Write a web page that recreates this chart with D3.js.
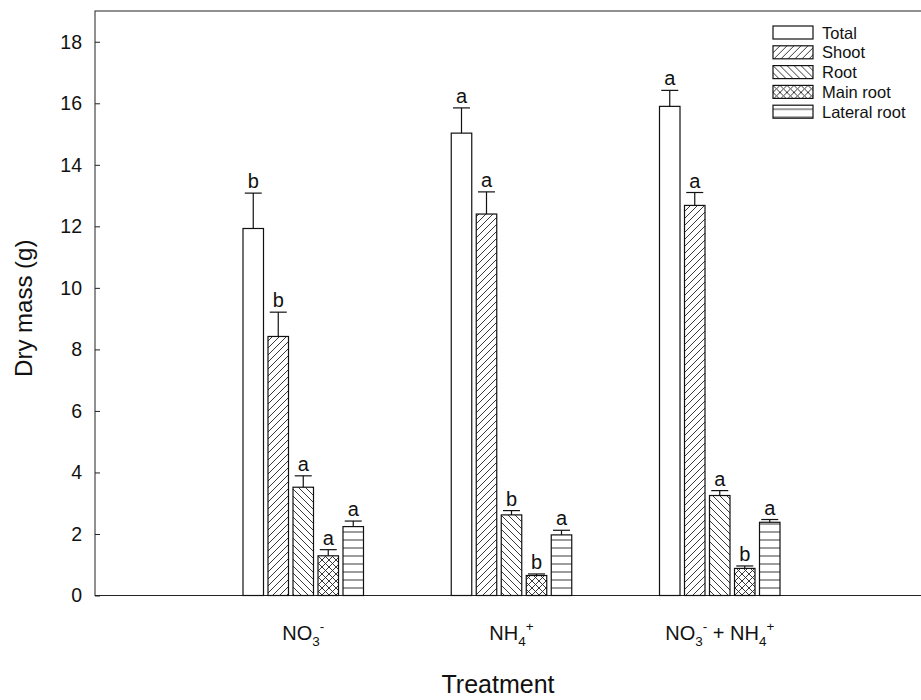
<!DOCTYPE html>
<html>
<head>
<meta charset="utf-8">
<script src="https://cdn.jsdelivr.net/npm/d3@7"></script>
<style>
  body { margin: 0; background: #fff; }
  text { font-family: "Liberation Sans", Arial, sans-serif; fill: #111; }
</style>
</head>
<body>
<svg id="chart" width="921" height="700"></svg>
<script>
// treatments, drawn as base / subscript / superscript pieces
const treatments = ['NO3-', 'NH4+', 'NO3- + NH4+'];
const treatmentLabels = [
    [['NO', ''], ['3', 'sub'], ['-', 'sup']],
    [['NH', ''], ['4', 'sub'], ['+', 'sup']],
    [['NO', ''], ['3', 'sub'], ['-', 'sup'], [' + NH', ''], ['4', 'sub'], ['+', 'sup']]
];
const parts = ['Total', 'Shoot', 'Root', 'Main root', 'Lateral root'];

const totalMass = [11.93, 15.03, 15.90];
const totalErr = [1.15, 0.82, 0.52];
const shootMass = [8.42, 12.40, 12.68];
const shootErr = [0.79, 0.72, 0.42];
const rootMass = [3.52, 2.62, 3.25];
const rootErr = [0.37, 0.14, 0.16];
const mainRootMass = [1.29, 0.65, 0.88];
const mainRootErr = [0.2, 0.05, 0.08];
const lateralRootMass = [2.24, 1.97, 2.38];
const lateralRootErr = [0.18, 0.15, 0.09];

const letters = [
    ['b', 'b', 'a', 'a', 'a'],
    ['a', 'a', 'b', 'b', 'a'],
    ['a', 'a', 'a', 'b', 'a']
];

const yTicks = [0, 2, 4, 6, 8, 10, 12, 14, 16, 18];

const masses = [totalMass, shootMass, rootMass, mainRootMass, lateralRootMass];
const errs = [totalErr, shootErr, rootErr, mainRootErr, lateralRootErr];

const rows = [];
treatments.forEach((t, i) => {
    parts.forEach((p, j) => {
        rows.push({ t, i, part: p, value: masses[j][i], err: errs[j][i], letter: letters[i][j] });
    });
});

const svg = d3.select('#chart');

const M = { left: 95, right: 928, top: 11, bottom: 595.5 };

const x = d3.scaleLinear().domain([0, 4]).range([M.left, M.right]);
const xOff = d3.scaleBand().domain(parts).range([-60.25, 60.25]).paddingInner(0.18);
const y = d3.scaleLinear().domain([0, 19]).range([M.bottom, M.top]);

/** hatch patterns */
const defs = svg.append('defs');
const hatch = (id, size, draw) => {
    const p = defs.append('pattern')
        .attr('id', id)
        .attr('patternUnits', 'userSpaceOnUse')
        .attr('width', size).attr('height', size);
    p.append('rect').attr('width', size).attr('height', size).attr('fill', '#fff');
    draw(p, size);
};
const lineStyle = (sel) => sel.attr('stroke', '#222').attr('stroke-width', 0.9).attr('fill', 'none');
const fwd = (s) => `M0,${s} L${s},0 M${-s / 2},${s / 2} L${s / 2},${-s / 2} M${s / 2},${s * 1.5} L${s * 1.5},${s / 2}`;
const back = (s) => `M0,0 L${s},${s} M${-s / 2},${s / 2} L${s / 2},${s * 1.5} M${s / 2},${-s / 2} L${s * 1.5},${s / 2}`;

hatch('p-total', 8, () => {});
hatch('p-shoot', 7, (p, s) => {
    p.append('path').attr('d', fwd(s)).call(lineStyle);
});
hatch('p-root', 7, (p, s) => {
    p.append('path').attr('d', back(s)).call(lineStyle);
});
hatch('p-main', 7, (p, s) => {
    p.append('path').attr('d', fwd(s)).call(lineStyle);
    p.append('path').attr('d', back(s)).call(lineStyle);
});
hatch('p-lateral', 8, (p, s) => {
    p.append('path').attr('d', `M0,${s / 2} L${s},${s / 2}`).call(lineStyle);
});
const fill = d3.scaleOrdinal().domain(parts)
    .range(['url(#p-total)', 'url(#p-shoot)', 'url(#p-root)', 'url(#p-main)', 'url(#p-lateral)']);

/** frame */
svg.append('rect')
    .attr('x', M.left).attr('y', M.top)
    .attr('width', M.right - M.left).attr('height', M.bottom - M.top)
    .attr('fill', 'none').attr('stroke', '#222').attr('stroke-width', 1);

/** y axis, ticks inside */
const yAxis = svg.append('g')
    .attr('transform', `translate(${M.left},0)`)
    .call(d3.axisRight(y).tickValues(yTicks).tickSize(5).tickFormat(d3.format('d')));
yAxis.select('.domain').remove();
yAxis.selectAll('line').attr('stroke', '#222');
yAxis.selectAll('text')
    .attr('x', -13).attr('text-anchor', 'end')
    .style('font-size', '19.5px').style('fill', '#111')
    .style('font-family', '"Liberation Sans", Arial, sans-serif');

svg.append('text')
    .attr('transform', `translate(32, ${(M.top + M.bottom) / 2 + 5}) rotate(-90)`)
    .attr('text-anchor', 'middle')
    .style('font-size', '24px')
    .text('Dry mass (g)');

/** bars */
const barX = (d) => x(d.i + 1) + xOff(d.part);
svg.append('g').selectAll('rect')
    .data(rows).enter().append('rect')
    .attr('x', barX)
    .attr('y', (d) => y(d.value))
    .attr('width', xOff.bandwidth())
    .attr('height', (d) => y(0) - y(d.value))
    .attr('fill', (d) => fill(d.part))
    .attr('stroke', '#111').attr('stroke-width', 1.2);

/** error bars (upper half only) */
const eb = svg.append('g').attr('stroke', '#111').attr('stroke-width', 1.2);
eb.selectAll('line.v').data(rows).enter().append('line')
    .attr('class', 'v')
    .attr('x1', (d) => barX(d) + xOff.bandwidth() / 2)
    .attr('x2', (d) => barX(d) + xOff.bandwidth() / 2)
    .attr('y1', (d) => y(d.value))
    .attr('y2', (d) => y(d.value + d.err));
eb.selectAll('line.c').data(rows).enter().append('line')
    .attr('class', 'c')
    .attr('x1', (d) => barX(d) + xOff.bandwidth() / 2 - 8.5)
    .attr('x2', (d) => barX(d) + xOff.bandwidth() / 2 + 8.5)
    .attr('y1', (d) => y(d.value + d.err))
    .attr('y2', (d) => y(d.value + d.err));

/** significance letters */
svg.append('g').selectAll('text')
    .data(rows).enter().append('text')
    .attr('x', (d) => barX(d) + xOff.bandwidth() / 2)
    .attr('y', (d) => y(d.value + d.err) - 5)
    .attr('text-anchor', 'middle')
    .style('font-size', '20px')
    .text((d) => d.letter);

/** category labels */
treatmentLabels.forEach((pieces, i) => {
    const t = svg.append('text')
        .attr('x', x(i + 1))
        .attr('y', 640)
        .attr('text-anchor', 'middle')
        .style('font-size', '20px');
    let shift = 0;
    pieces.forEach(([s, kind]) => {
        const ts = t.append('tspan').text(s);
        let target = 0;
        if (kind === 'sub') { target = 6; ts.style('font-size', '13.5px'); }
        if (kind === 'sup') { target = -9; ts.style('font-size', '13.5px'); }
        ts.attr('dy', target - shift);
        shift = target;
    });
});

svg.append('text')
    .attr('x', 498).attr('y', 693)
    .attr('text-anchor', 'middle')
    .style('font-size', '25px')
    .text('Treatment');

/** legend */
const legend = svg.append('g').selectAll('g')
    .data(parts).enter().append('g')
    .attr('transform', (d, i) => `translate(773, ${26 + i * 19.8})`);
legend.append('rect')
    .attr('width', 40).attr('height', 13)
    .attr('fill', (d) => fill(d))
    .attr('stroke', '#111').attr('stroke-width', 1.2);
legend.append('text')
    .attr('x', 49).attr('y', 12.5)
    .style('font-size', '16.5px')
    .text((d) => d);
</script>
</body>
</html>
